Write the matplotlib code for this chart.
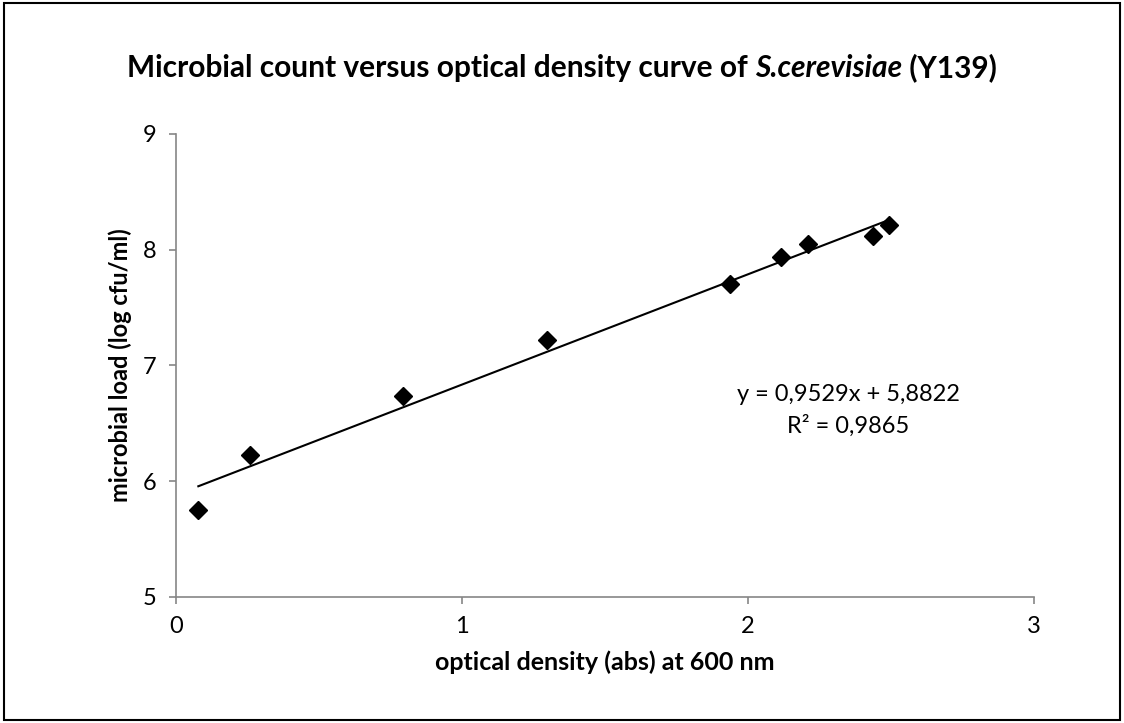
import matplotlib.pyplot as plt
import numpy as np
from matplotlib.patches import Rectangle

plt.rcParams["font.family"] = ["Lato", "DejaVu Sans"]

# optical density (abs 600 nm) and microbial load (log cfu/ml)
od = [0.078, 0.259, 0.795, 1.296, 1.937, 2.115, 2.209, 2.436, 2.493]
log_cfu = [5.75, 6.23, 6.74, 7.22, 7.70, 7.94, 8.05, 8.12, 8.21]

slope = 0.9529
intercept = 5.8822
r2 = 0.9865

x_ticks = [0, 1, 2, 3]
y_ticks = [5, 6, 7, 8, 9]

title_parts = [("Microbial count versus optical density curve of ", "normal"),
               ("S.cerevisiae", "italic"),
               (" (Y139)", "normal")]

fig = plt.figure(figsize=(11.24, 7.23), dpi=100)
ax = fig.add_axes([0.1566, 0.1743, 0.7634, 0.6404])

ax.plot(od, log_cfu, "D", color="black", markersize=9.5, zorder=3)

xfit = np.array([min(od), max(od)])
ax.plot(xfit, slope * xfit + intercept, color="black", linewidth=1.5, zorder=2)

ax.text(2.35, 6.75, "y = 0,9529x + 5,8822", ha="center", va="center", fontsize=17)
ax.text(2.35, 6.48, "R² = {:.4f}".format(r2).replace(".", ","),
        ha="center", va="center", fontsize=17)

ax.set_xlim(0, 3)
ax.set_ylim(5, 9)
ax.set_xticks(x_ticks)
ax.set_yticks(y_ticks)
ax.tick_params(direction="out", length=5, width=1.2, color="#868686",
               labelsize=17, pad=9)

for side in ["top", "right"]:
    ax.spines[side].set_visible(False)
for side in ["left", "bottom"]:
    ax.spines[side].set_color("#868686")
    ax.spines[side].set_linewidth(1.2)

ax.set_xlabel("optical density (abs) at 600 nm", fontsize=18, fontweight="bold", labelpad=9)
ax.set_ylabel("microbial load (log cfu/ml)", fontsize=17, fontweight="bold", labelpad=8)

# title drawn in pieces so the species name can be italic in the same font
renderer = fig.canvas.get_renderer()
pieces = []
for txt, style in title_parts:
    t = fig.text(0, 0.906, txt, fontsize=21.5, fontweight="bold", fontstyle=style,
                 ha="left", va="center")
    pieces.append(t)
widths = [t.get_window_extent(renderer).width for t in pieces]
x0 = (fig.bbox.width - sum(widths)) / 2
for t, w in zip(pieces, widths):
    t.set_x(x0 / fig.bbox.width)
    x0 += w

fig.patches.append(Rectangle((0.004, 0.004), 0.992, 0.992, transform=fig.transFigure,
                             fill=False, edgecolor="black", linewidth=1.5))

fig.savefig("out.png", dpi=100)
